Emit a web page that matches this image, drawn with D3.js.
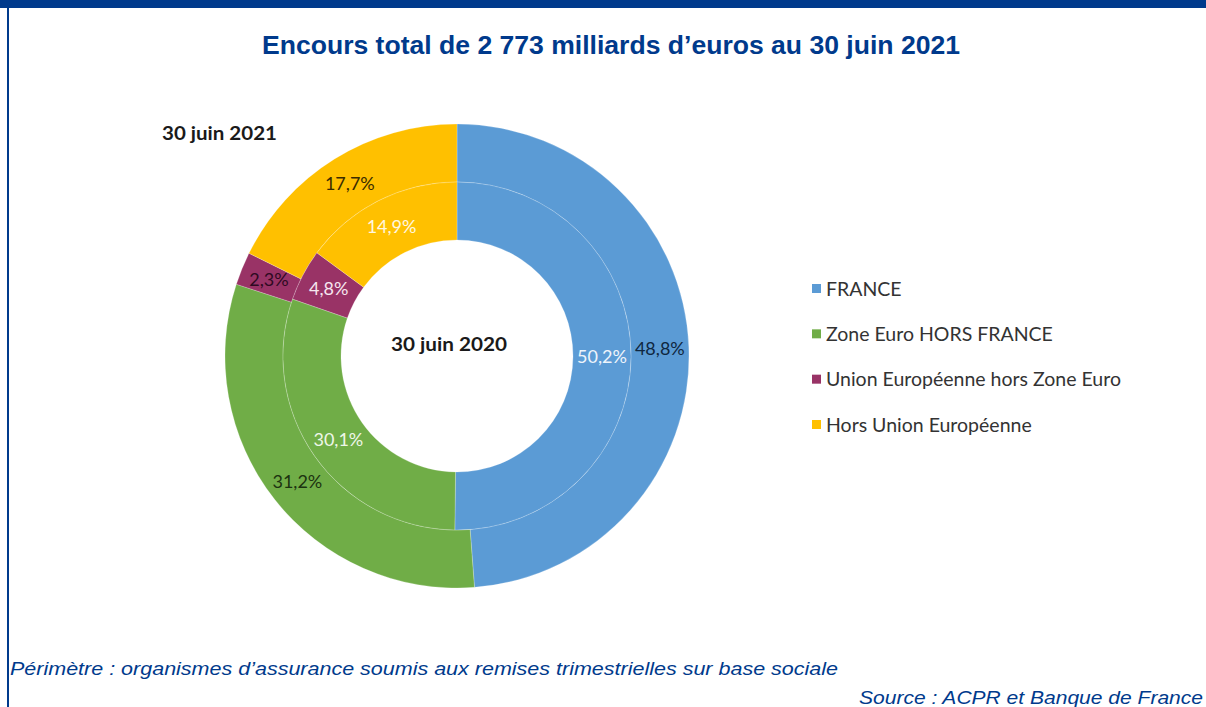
<!DOCTYPE html>
<html>
<head>
<meta charset="utf-8">
<script src="https://cdn.jsdelivr.net/npm/d3@7/dist/d3.min.js"></script>
<style>
  html, body { margin: 0; padding: 0; background: #fff; }
  svg { display: block; }
</style>
</head>
<body>
<svg id="chart" width="1206" height="707"></svg>
<script>
// Zones géographiques et parts (%) de l'encours
const categories = ["FRANCE", "Zone Euro HORS FRANCE", "Union Européenne hors Zone Euro", "Hors Union Européenne"];
const values2021 = [48.8, 31.2, 2.3, 17.7];   // anneau extérieur
const values2020 = [50.2, 30.1, 4.8, 14.9];   // anneau intérieur
const colors = ["#5B9BD5", "#70AD47", "#993366", "#FFC000"];
const outerLabelColors = ["#0f2740", "#1c3310", "#2e0a22", "#3a2c00"];
const innerLabelColors = ["#eef4fb", "#eef6e8", "#f6e6ef", "#fff7e0"];

const svg = d3.select("#chart");
const W = 1206, H = 707;
const navy = "#003A8C";

// Bandeau supérieur et filet gauche
svg.append("rect").attr("x", 0).attr("y", 0).attr("width", W).attr("height", 8).attr("fill", navy);
svg.append("rect").attr("x", 7).attr("y", 0).attr("width", 2).attr("height", H).attr("fill", navy);

// Titre
svg.append("text")
  .attr("x", 611).attr("y", 54)
  .attr("text-anchor", "middle")
  .attr("font-family", "Liberation Sans, Arial, sans-serif")
  .attr("font-weight", "bold")
  .attr("font-size", 26)
  .attr("fill", navy)
  .attr("textLength", 698).attr("lengthAdjust", "spacingAndGlyphs")
  .text("Encours total de 2 773 milliards d’euros au 30 juin 2021");

// Anneaux
const cx = 457, cy = 356;
const rHole = 116, rMid = 174, rOuter = 232;
const g = svg.append("g").attr("transform", `translate(${cx},${cy})`);
const pie = d3.pie().sort(null).value(d => d);

const rings = [
  { values: values2021, r0: rMid, r1: rOuter, labelColors: outerLabelColors },
  { values: values2020, r0: rHole, r1: rMid, labelColors: innerLabelColors }
];

const fmt = v => d3.format(".1f")(v).replace(".", ",") + "%";
const labelFont = "Lato, 'Open Sans', sans-serif";

rings.forEach(ring => {
  const arc = d3.arc().innerRadius(ring.r0).outerRadius(ring.r1);
  const arcs = pie(ring.values);
  g.selectAll(null).data(arcs).enter().append("path")
    .attr("d", arc)
    .attr("fill", (d, i) => colors[i])
    .attr("stroke", "rgba(255,255,255,0.22)")
    .attr("stroke-width", 1);
  g.selectAll(null).data(arcs).enter().append("text")
    .attr("transform", d => `translate(${arc.centroid(d)})`)
    .attr("text-anchor", "middle")
    .attr("dy", "0.35em")
    .attr("font-family", labelFont)
    .attr("font-size", 18)
    .attr("fill", (d, i) => ring.labelColors[i])
    .text(d => fmt(d.data));
});

// Libellés des anneaux
svg.append("text")
  .attr("x", 162).attr("y", 140)
  .attr("font-family", labelFont).attr("font-weight", "bold")
  .attr("font-size", 19).attr("fill", "#1a1a1a")
  .attr("textLength", 115).attr("lengthAdjust", "spacingAndGlyphs")
  .text("30 juin 2021");
svg.append("text")
  .attr("x", 449).attr("y", 351)
  .attr("text-anchor", "middle")
  .attr("font-family", labelFont).attr("font-weight", "bold")
  .attr("font-size", 19).attr("fill", "#1a1a1a")
  .attr("textLength", 116).attr("lengthAdjust", "spacingAndGlyphs")
  .text("30 juin 2020");

// Légende
const legendY = d3.scalePoint().domain(categories).range([289, 425]);
const legend = svg.append("g");
categories.forEach((c, i) => {
  legend.append("rect")
    .attr("x", 812).attr("y", legendY(c) - 5)
    .attr("width", 9).attr("height", 9)
    .attr("fill", colors[i]);
  legend.append("text")
    .attr("x", 826).attr("y", legendY(c))
    .attr("dy", "0.35em")
    .attr("font-family", labelFont)
    .attr("font-size", 19.5).attr("fill", "#333")
    .text(c);
});

// Notes de bas de page
svg.append("text")
  .attr("x", 10).attr("y", 675)
  .attr("font-family", "Liberation Sans, Arial, sans-serif")
  .attr("font-style", "italic").attr("font-size", 19)
  .attr("fill", navy)
  .attr("textLength", 828).attr("lengthAdjust", "spacingAndGlyphs")
  .text("Périmètre : organismes d’assurance soumis aux remises trimestrielles sur base sociale");
svg.append("text")
  .attr("x", 859).attr("y", 704)
  .attr("font-family", "Liberation Sans, Arial, sans-serif")
  .attr("font-style", "italic").attr("font-size", 19)
  .attr("fill", navy)
  .attr("textLength", 344).attr("lengthAdjust", "spacingAndGlyphs")
  .text("Source : ACPR et Banque de France");
</script>
</body>
</html>
